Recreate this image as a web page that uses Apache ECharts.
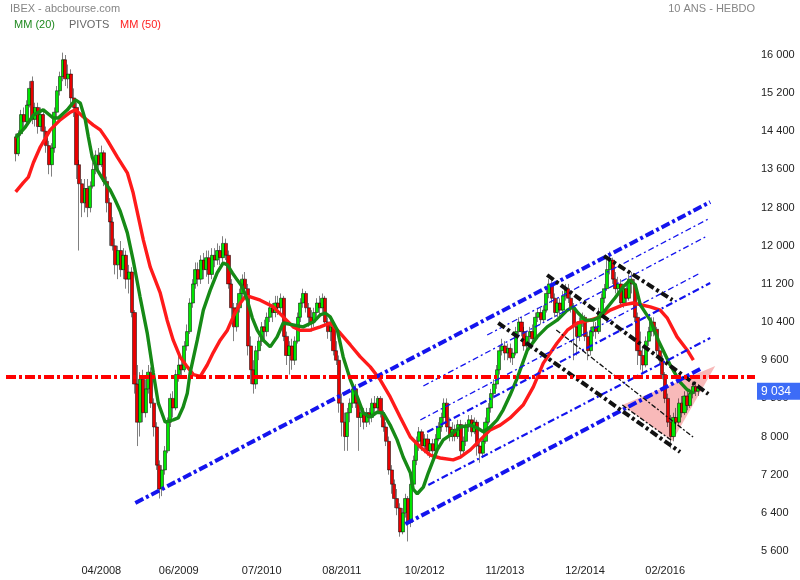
<!DOCTYPE html>
<html><head><meta charset="utf-8">
<script src="https://cdn.jsdelivr.net/npm/echarts@6/dist/echarts.min.js"></script>
<style>html,body{margin:0;padding:0;background:#fff}#c{width:800px;height:580px}</style>
</head><body><div id="c"></div>
<script>
// biweekly candles [open, close, low, high]
const candles = [
[14280,13930,13770,14350],[13930,14350,13880,14420],[14350,14750,14300,14850],[14750,14600,14450,14900],[14600,14950,14500,15050],
[14950,15300,14900,15450],[15450,14650,14550,15550],[14650,14900,14500,15000],[14900,14500,14350,15000],[14500,14750,14400,14900],
[14750,14400,14250,14850],[14400,14100,13950,14500],[14100,13700,13500,14200],[13700,14050,13450,14150],[14050,14800,13950,14900],
[14800,15250,14700,15350],[15250,15550,15150,15650],[15550,15900,15450,16050],[15900,15500,15350,16000],[15500,15600,15300,15800],
[15600,15100,14950,15700],[15100,14900,14700,15300],[14900,13700,13400,15000],[13700,13300,11900,13800],[13300,12900,12600,13400],
[12900,13200,12700,13400],[13200,12800,12600,13400],[12800,13250,12700,13350],[13250,13600,13200,13750],[13600,13900,13500,14000],
[13900,13700,13550,14050],[13700,13950,13650,14100],[13950,13350,13250,14000],[13350,12900,12700,13450],[12900,12500,12000,13000],
[12500,12000,11900,12600],[12000,11600,11400,12150],[11600,11900,11300,12000],[11900,11500,11350,12100],[11500,11800,11300,11950],
[11800,11300,11100,11900],[11300,11450,11000,11600],[11450,10600,10500,11550],[10600,9100,8900,10650],[9100,8300,7800,9500],
[8300,9200,8000,9350],[9200,8500,8300,9400],[8500,9000,8400,9200],[9000,9350,8900,9500],[9350,8700,8600,9450],
[8700,8200,8000,8800],[8200,7400,7300,8300],[7400,6900,6700,7500],[6900,7300,6750,7400],[7300,7700,7200,7800],
[7700,8300,7650,8400],[8300,8800,8200,8900],[8800,8600,8400,8950],[8600,9300,8550,9400],[9300,9500,9150,9700],
[9500,9400,9250,9650],[9400,9900,9350,10000],[9900,10200,9800,10350],[10200,10800,10150,10900],[10800,11200,10700,11300],
[11200,11500,11100,11650],[11500,11300,11150,11650],[11300,11700,11200,11800],[11700,11500,11300,11850],[11500,11750,11350,11900],
[11750,11400,11200,11900],[11400,11800,11300,11950],[11800,11700,11550,11950],[11700,11900,11600,12050],[11900,11750,11600,12000],
[11750,12050,11650,12200],[12050,11800,11700,12150],[11800,11200,11100,11900],[11200,10700,10500,11300],[10700,10300,10000,10800],
[10300,10700,10200,10800],[10700,11000,10600,11100],[11000,11300,10900,11400],[11300,11100,10900,11450],[11100,9900,9700,11200],
[9900,9400,9100,10100],[9400,9100,8900,9600],[9100,9800,9000,9900],[9800,10000,9600,10100],[10000,10300,9900,10400],
[10300,10200,10000,10450],[10200,10500,10100,10600],[10500,10700,10400,10850],[10700,10600,10400,10800],[10600,10800,10500,10950],
[10800,10700,10550,10950],[10700,10900,10600,11000],[10900,10100,10000,10950],[10100,9700,9500,10200],[9700,9900,9300,10000],
[9900,9600,9400,10050],[9600,10000,9500,10100],[10000,10500,9950,10600],[10500,10800,10400,10900],[10800,11000,10700,11100],
[11000,10700,10600,11050],[10700,10500,10300,10800],[10500,10400,10200,10650],[10400,10600,10300,10700],[10600,10800,10500,10900],
[10800,10700,10550,10950],[10700,10900,10600,11000],[10900,10400,10300,10950],[10400,10200,10050,10500],[10200,10300,10000,10450],
[10300,9800,9700,10400],[9800,9600,9500,10000],[9600,8700,8500,9700],[8700,8300,8000,8900],[8300,8000,7700,8500],
[8000,8500,7700,8600],[8500,8700,8300,8800],[8700,9000,8600,9100],[9000,8700,8600,9100],[8700,8400,7700,8750],
[8400,8500,8200,8650],[8500,8300,8150,8600],[8300,8500,8200,8600],[8500,8400,8250,8600],[8400,8700,8300,8800],
[8700,8600,8450,8850],[8600,8800,8500,8850],[8800,8500,8400,8850],[8500,8200,8100,8550],[8200,7900,7800,8300],
[7900,7300,7200,8000],[7300,7000,6800,7400],[7000,6700,6500,7100],[6700,6500,6350,6900],[6500,6000,5900,6600],
[6000,6400,5950,6500],[6400,6700,6300,6800],[6700,6200,5800,6750],[6200,7000,6100,7100],[7000,7500,6950,7600],
[7500,7900,7400,8000],[7900,8100,7700,8200],[8100,7800,7700,8150],[7800,7950,7650,8050],[7950,7700,7600,8050],
[7700,7850,7550,7950],[7850,7700,7600,7950],[7700,7950,7650,8050],[7950,8200,7900,8300],[8200,8400,8100,8500],
[8400,8700,8300,8800],[8700,8200,8100,8800],[8200,8000,7900,8400],[8000,8150,7900,8300],[8150,8000,7900,8250],
[8000,8250,7950,8350],[8250,7700,7600,8350],[7700,7900,7600,8000],[7900,8200,7800,8300],[8200,8350,8100,8450],
[8350,8100,8000,8450],[8100,8300,8050,8400],[8300,7800,7600,8350],[7800,7650,7450,7900],[7650,7900,7550,8000],
[7900,8300,7850,8400],[8300,8600,8250,8700],[8600,8900,8500,9000],[8900,9100,8800,9200],[9100,9400,9000,9500],
[9400,9800,9300,9900],[9800,9900,9700,10050],[9900,9750,9600,10000],[9750,9850,9600,9950],[9850,9650,9550,9950],
[9650,9750,9500,9850],[9750,10200,9700,10300],[10200,10400,10100,10500],[10400,10200,10100,10500],[10200,9900,9800,10300],
[9900,10100,9800,10200],[10100,10200,9950,10300],[10200,10050,9950,10350],[10050,10500,10000,10600],[10500,10600,10400,10700],
[10600,10450,10350,10700],[10450,10650,10400,10750],[10650,11000,10600,11100],[11000,11200,10900,11300],[11200,10900,10800,11300],
[10900,10600,10500,11000],[10600,10800,10500,10900],[10800,10650,10500,10900],[10650,10950,10600,11050],[10950,11100,10850,11200],
[11100,10900,10800,11200],[10900,10700,10600,11000],[10700,10300,9600,10800],[10300,10100,9700,10400],[10100,10400,10000,10500],
[10400,10500,10300,10600],[10500,10100,10000,10550],[10100,9800,9600,10200],[9800,10200,9700,10300],[10200,10300,10100,10400],
[10300,10200,10050,10400],[10200,10600,10150,10700],[10600,10900,10550,11000],[10900,11100,10800,11200],[11100,11500,11050,11700],
[11500,11700,11400,11880],[11700,11300,11200,11750],[11300,11100,11000,11450],[11100,11200,10950,11350],[11200,10800,10700,11300],
[10800,11100,10700,11200],[11100,10900,10800,11250],[10900,11300,10850,11400],[11300,11200,11000,11450],[11200,10500,10400,11300],
[10500,9800,9500,10600],[9800,9700,9400,10200],[9700,9500,9300,9900],[9500,10000,9450,10100],[10000,10200,9900,10300],
[10200,10400,10100,10500],[10400,10250,10100,10500],[10250,9800,9700,10300],[9800,9600,9500,9900],[9600,9300,9200,9700],
[9300,8800,8700,9350],[8800,8300,8200,8900],[8300,8000,7750,8450],[8000,8400,7900,8500],[8400,8300,8150,8600],
[8300,8700,8250,8800],[8700,8500,8400,8850],[8500,8850,8450,8950],[8850,8650,8550,8950],[8650,8900,8600,9000],
[8900,9050,8800,9150],[9050,8950,8850,9150],[8950,9034,8850,9100]
];
// moving averages: [candle index, value]
const ma20 = [[0,14260],[3.5,14490],[6.4,14740],[10,14850],[13.6,14680],[15.4,14680],[18.7,14850],[21.6,15060],[23.4,14990],[25.2,14640],[26.3,14280],[27.7,13860],[29.5,13590],[31.7,13380],[34.2,13170],[36,12960],[37.8,12730],[40.4,12270],[42.5,11700],[45,10930],[47.6,10170],[49.8,9330],[51.6,8700],[54.1,8300],[57,8350],[58.8,8390],[60.6,8620],[62.1,8910],[63.1,9330],[65.7,10020],[67.9,10650],[70.4,11070],[72.9,11430],[75.1,11640],[76.6,11600],[78.4,11430],[80.2,11280],[82,11140],[83.8,10860],[85.6,10490],[87.4,10230],[89.6,10020],[92.1,9880],[94.6,10090],[96.8,10380],[100.4,10340],[104,10300],[107.7,10400],[110.2,10550],[112,10590],[113.8,10510],[116.4,10230],[118.5,9670],[121.1,9190],[123.6,8830],[125.8,8490],[128.3,8410],[130.8,8510],[133,8490],[135.5,8240],[138,7930],[140.2,7570],[142.8,7240],[143.8,6900],[145.3,6800],[147.5,6940],[149.3,7240],[152.5,7720],[154.7,7930],[157.2,8030],[160.9,8200],[164.5,8240],[167,8180],[169.2,8100],[171.7,8200],[174.2,8350],[176.4,8560],[178.9,8870],[181.5,9230],[185.1,9810],[188.7,10090],[192.3,10300],[195.9,10440],[199.6,10650],[201.7,10720],[203.5,10590],[206.1,10440],[208.9,10440],[211.5,10510],[214,10700],[216.9,10910],[219.8,11140],[222.4,11280],[224.2,11180],[226,10760],[229.6,10440],[232.5,10020],[236.8,9500],[240.4,9140],[243,8980],[245.2,8910]];
const ma50 = [[0,13130],[2.7,13320],[4.6,13440],[6.4,13740],[8.9,14070],[12.5,14430],[16.1,14640],[19.8,14800],[21.6,14850],[24.5,14700],[28.1,14530],[30.6,14430],[33.1,14220],[36.8,13860],[40.4,13530],[42.5,13110],[44.4,12600],[46.2,12120],[48.7,11550],[52.3,11010],[54.8,10440],[57,10020],[59.5,9670],[62.1,9460],[64.3,9300],[66.8,9260],[69.3,9500],[71.5,9760],[74,10020],[76.6,10230],[78.7,10510],[81.3,10800],[83,10930],[84.9,10930],[88.5,10860],[93.2,10720],[96.8,10510],[100.4,10300],[102.9,10230],[106.6,10230],[110.2,10300],[113.8,10380],[117.4,10170],[121.1,9920],[124.7,9670],[128.3,9460],[131.9,9190],[135.5,8830],[139.1,8410],[142.8,7990],[146.4,7780],[150,7610],[153.6,7550],[158.3,7510],[160.9,7570],[164.5,7720],[168.1,7930],[171.7,8140],[175.3,8240],[178.9,8390],[183.6,8660],[187.3,9040],[190.9,9540],[195.9,9960],[199.6,10230],[203.2,10380],[207.9,10440],[211.5,10510],[215.1,10650],[219.8,10760],[223.4,10800],[229.6,10720],[233.2,10650],[235.7,10490],[239.3,10090],[243,9810],[245.2,9600]];
// trend lines: endpoints [candle index, value]
const chanThick = [[[43.3,6606],[251.3,12918]],[[141,6166],[247.7,9416]]];
const chanMid = [[[149.3,6984],[251.3,10066]],[[148.9,8095],[251.3,11219]]];
const chanThin = [[[146.4,8347],[247.7,11429]],[[147.5,9060],[249.5,12184]],[[170.6,10129],[251.3,12582]]];
const downThick = [[[192.3,11387],[250.6,8892]],[[212.9,11785],[237.6,10863]],[[174.6,10381],[240.4,7676]]];
const downThin = [[[195.6,10234],[245.1,7990]],[[219.5,8661],[237.6,7906]]];
const triangle = [[219.5,8661],[253.1,9479],[237.6,7906]];
const pivot = 9248;
const lastClose = 9034;
const xTickLabels = ['04/2008','06/2009','07/2010','08/2011','10/2012','11/2013','12/2014','02/2016'];
const xTickCat = [34,62,92,121,151,180,209,238];
const yMin = 5600, yMax = 16000, yStep = 800;

const LEAD = 3, NCAT = 271;
const cats = [];
for (let k = 0; k < NCAT; k++) cats.push('');
xTickCat.forEach((k, j) => { cats[k] = xTickLabels[j]; });
const candleData = [];
for (let k = 0; k < LEAD; k++) candleData.push('-');
candles.forEach(c => candleData.push(c));
const shift = arr => arr.map(p => [p[0] + LEAD, p[1]]);
const fmt = v => String(v).replace(/\B(?=(\d{3})+(?!\d))/g, ' ');

const series = [];
series.push({
  type: 'custom', xAxisIndex: 1, z: 1, silent: true,
  data: [[triangle[0][0] + LEAD, triangle[0][1]]],
  renderItem: (params, api) => ({
    type: 'polygon',
    shape: { points: triangle.map(p => api.coord([p[0] + LEAD, p[1]])) },
    style: { fill: 'rgba(240,100,100,0.45)' }
  })
});
series.push({
  type: 'candlestick', xAxisIndex: 0, z: 2, barWidth: 3.6,
  data: candleData,
  itemStyle: { color: '#00e600', color0: '#e80000', borderColor: '#000', borderColor0: '#000', borderWidth: 0.5 }
});
function addLine(pts, color, width, dash, z) {
  series.push({ type: 'line', xAxisIndex: 1, z: z, silent: true, symbol: 'none',
    data: shift(pts), lineStyle: { color: color, width: width, type: dash } });
}
addLine(ma50, '#ff1a1a', 3.4, 'solid', 3);
addLine(ma20, '#168a16', 3.4, 'solid', 3);
chanThin.forEach(l => addLine(l, '#1414ee', 1.3, [6, 3, 2, 3], 4));
chanMid.forEach(l => addLine(l, '#1414ee', 2.2, [7, 3, 2, 3], 4));
chanThick.forEach(l => addLine(l, '#1414ee', 4, [9, 3, 3, 3], 4));
downThin.forEach(l => addLine(l, '#111', 1.3, [5, 2, 2, 2], 4));
downThick.forEach(l => addLine(l, '#111', 4, [8, 3, 3, 3], 4));
series.push({ type: 'line', xAxisIndex: 1, z: 5, silent: true, symbol: 'none', clip: false,
  data: [[-0.5, pivot], [NCAT - 0.5, pivot]], lineStyle: { color: '#ff0000', width: 4, type: [10, 3, 3, 3] },
  markLine: {
    silent: true, symbol: 'none', z: 20,
    lineStyle: { color: 'rgba(0,0,0,0)', width: 0 },
    label: { show: true, position: 'end', distance: 2, formatter: () => fmt(lastClose),
      backgroundColor: '#3d6cf7', color: '#fff', fontSize: 12, fontFamily: 'Arial, Liberation Sans',
      padding: [3, 12, 2, 4], offset: [0, 4] },
    data: [{ yAxis: lastClose }]
  }
});

const chart = echarts.init(document.getElementById('c'), null, { renderer: 'canvas' });
chart.setOption({
  animation: false,
  backgroundColor: '#fff',
  grid: { left: 6, right: 45, top: 55, bottom: 29, containLabel: false },
  xAxis: [
    { type: 'category', data: cats, boundaryGap: true,
      axisLine: { show: false }, axisTick: { show: false }, splitLine: { show: false },
      axisLabel: { interval: 0, margin: 14, fontSize: 11, color: '#222', fontFamily: 'Arial, Liberation Sans' } },
    { type: 'value', min: -0.5, max: NCAT - 0.5, show: false }
  ],
  yAxis: { type: 'value', position: 'right', min: yMin, max: yMax, interval: yStep,
    axisLine: { show: false }, axisTick: { show: false }, splitLine: { show: false },
    axisLabel: { margin: 6, fontSize: 11, color: '#222', fontFamily: 'Arial, Liberation Sans', formatter: fmt } },
  graphic: [
    { type: 'text', left: 10, top: 3, style: { text: 'IBEX - abcbourse.com', fill: '#858585', font: '11px Arial, Liberation Sans' } },
    { type: 'text', left: 14, top: 19, style: { text: 'MM (20)', fill: '#1f8a1f', font: '11px Arial, Liberation Sans' } },
    { type: 'text', left: 69, top: 19, style: { text: 'PIVOTS', fill: '#666', font: '11px Arial, Liberation Sans' } },
    { type: 'text', left: 120, top: 19, style: { text: 'MM (50)', fill: '#ff2020', font: '11px Arial, Liberation Sans' } },
    { type: 'text', right: 45, top: 3, style: { text: '10 ANS - HEBDO', fill: '#858585', font: '11px Arial, Liberation Sans' } }
  ],
  series: series
});
</script></body></html>
